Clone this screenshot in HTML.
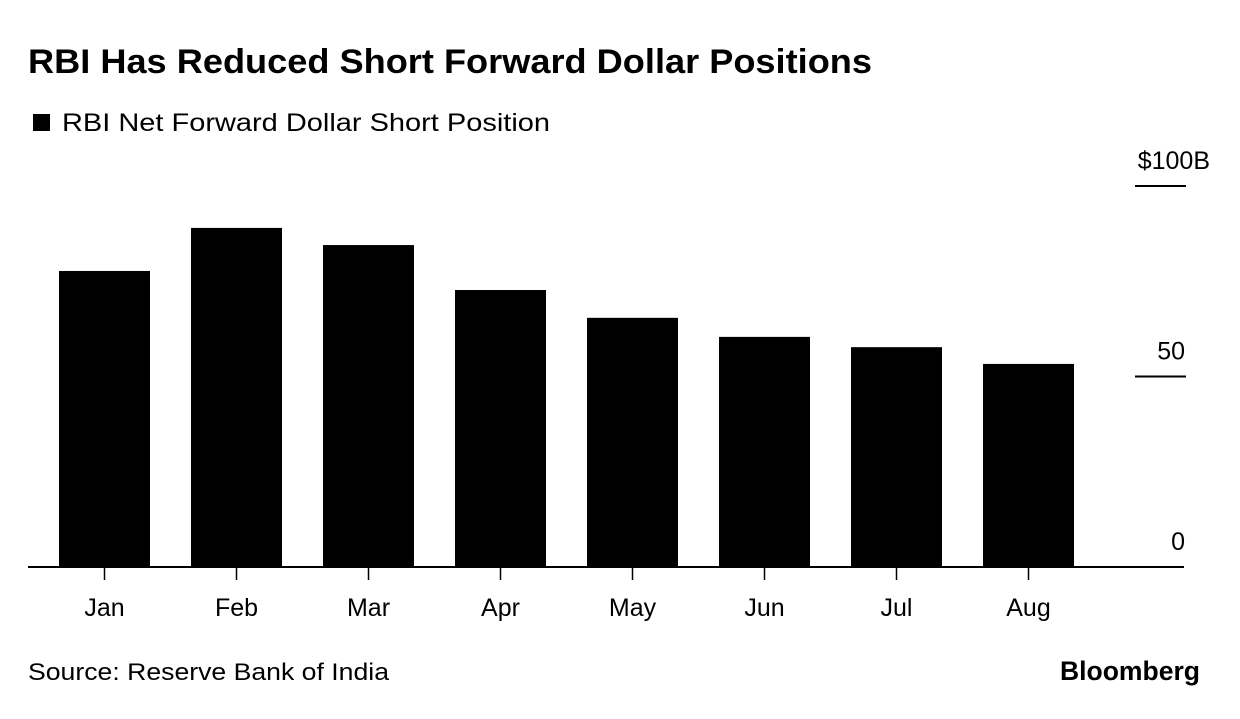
<!DOCTYPE html>
<html><head><meta charset="utf-8"><style>
body{margin:0;background:#fff;width:1240px;height:714px;overflow:hidden;font-family:"Liberation Sans",sans-serif}
</style></head><body>
<svg width="1240" height="714" xmlns="http://www.w3.org/2000/svg">
<text x="28" y="73" font-size="34" font-weight="bold" fill="#000" textLength="844" lengthAdjust="spacingAndGlyphs">RBI Has Reduced Short Forward Dollar Positions</text>
<rect x="33" y="114" width="17" height="17" fill="#000"/>
<text x="62" y="131" font-size="25" fill="#000" textLength="488" lengthAdjust="spacingAndGlyphs">RBI Net Forward Dollar Short Position</text>
<g id="plot"></g>
<text x="28" y="680" font-size="24" fill="#000" textLength="361" lengthAdjust="spacingAndGlyphs">Source: Reserve Bank of India</text>
<text x="1060" y="680" font-size="27" font-weight="bold" fill="#000" textLength="140" lengthAdjust="spacingAndGlyphs">Bloomberg</text>
</svg>
<script>
const categories=["Jan","Feb","Mar","Apr","May","Jun","Jul","Aug"];
const values=[77.7,89,84.5,72.7,65.4,60.4,57.7,53.3];
const yTicks=[0,50,100];
const yTickLabels=["0","50","$100B"];
const NS="http://www.w3.org/2000/svg";
const g=document.getElementById("plot");
const y0=567,pxPerUnit=3.81;
function yScale(v){return y0-v*pxPerUnit;}
function xCenter(i){return 104.5+132*i;}
const bw=91;
function mk(t,a){const e=document.createElementNS(NS,t);for(const k in a)e.setAttribute(k,a[k]);g.appendChild(e);return e;}
yTicks.forEach((t,i)=>{
 if(t!==0){const l=mk("line",{x1:1135,x2:1186,y1:yScale(t),y2:yScale(t),stroke:"#000","stroke-width":2});
 
 }
 const isTop=i===yTicks.length-1;
 const tx=mk("text",{x:isTop?1210:1185,y:yScale(t)-17,"font-size":25,"text-anchor":"end",fill:"#000"});
 tx.textContent=yTickLabels[i];
 
 
});
values.forEach((v,i)=>{
 const r=mk("rect",{x:xCenter(i)-bw/2,y:yScale(v),width:bw,height:y0-yScale(v),fill:"#000"});
 
 
 const tk=mk("line",{x1:xCenter(i),x2:xCenter(i),y1:y0,y2:y0+13,stroke:"#000","stroke-width":1.5});
 
 
 const lb=mk("text",{x:xCenter(i),y:616,"font-size":25,"text-anchor":"middle",fill:"#000"});
 lb.textContent=categories[i];
 
 
});
const base=mk("line",{x1:28,x2:1184,y1:y0,y2:y0,stroke:"#000","stroke-width":2});


</script>
</body></html>
